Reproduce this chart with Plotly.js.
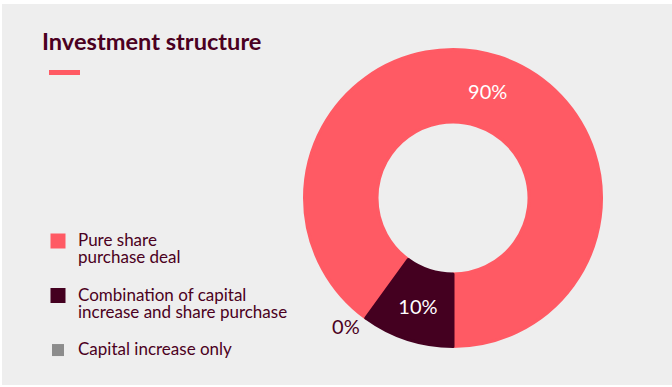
<!DOCTYPE html>
<html>
<head>
<meta charset="utf-8">
<script src="https://cdn.plot.ly/plotly-3.0.1.min.js"></script>
<style>
  html, body { margin: 0; padding: 0; background: #ffffff; width: 672px; height: 387px; overflow: hidden; }
  #chart { position: absolute; left: 2px; top: 4px; width: 670px; height: 381px; }
</style>
</head>
<body>
<div id="chart"></div>
<script>
const categories = ["Pure share<br>purchase deal", "Combination of capital<br>increase and share purchase", "Capital increase only"];
const shares = [90, 10, 0];
const sliceColors = ["#ff5a64", "#440020", "#8c8c8c"];
const chartTitle = "Investment structure";

const textColor = "#4b0021";
const W = 670, H = 381;

// legend labels: larger visible text, tighter line spacing, trailing blank line as item gap
const legendLabels = categories.map(function (c) {
  const lines = c.split("<br>").map(function (s) {
    return '<span style="font-size:17px">' + s + '</span>';
  });
  return lines.join("<br>") + (lines.length > 1 ? "<br>&nbsp;" : "");
});

const R = 148.5;
const cx = 451, cy = 194;

const trace = {
  type: "pie",
  labels: legendLabels,
  values: shares,
  sort: false,
  direction: "clockwise",
  rotation: 216,
  hole: 76 / R,
  marker: { colors: sliceColors, line: { color: sliceColors, width: [3, 3, 0] } },
  textinfo: "percent",
  textposition: ["inside", "inside", "outside"],
  insidetextorientation: "horizontal",
  insidetextfont: { family: "Lato", size: 20, color: "#ffffff" },
  outsidetextfont: { family: "Lato", size: 20, color: textColor },
  domain: { x: [(cx - R) / W, (cx + R) / W], y: [(H - cy - R) / H, (H - cy + R) / H] },
  hoverinfo: "none"
};

const layout = {
  width: W,
  height: H,
  margin: { l: 0, r: 0, t: 0, b: 0 },
  paper_bgcolor: "#eeeeee",
  plot_bgcolor: "#eeeeee",
  font: { family: "Lato", color: textColor },
  title: {
    text: "<b>" + chartTitle + "</b>",
    font: { family: "Lato", size: 23.6, color: textColor },
    x: 40 / W, xanchor: "left", xref: "paper",
    y: 1 - 38 / H, yanchor: "middle", yref: "paper"
  },
  showlegend: true,
  legend: {
    x: 36 / W, xanchor: "left",
    y: 1 - 222 / H, yanchor: "top",
    bgcolor: "rgba(0,0,0,0)",
    font: { family: "Lato", size: 13.2, color: textColor },
    traceorder: "normal",
    valign: "top",
    itemwidth: 30
  },
  shapes: [{
    type: "rect", xref: "paper", yref: "paper",
    x0: 47 / W, x1: 78 / W, y0: 1 - 71 / H, y1: 1 - 66 / H,
    fillcolor: "#ff5a64", line: { width: 0 }
  }]
};

Plotly.newPlot("chart", [trace], layout, { displayModeBar: false, staticPlot: true });
</script>
</body>
</html>
